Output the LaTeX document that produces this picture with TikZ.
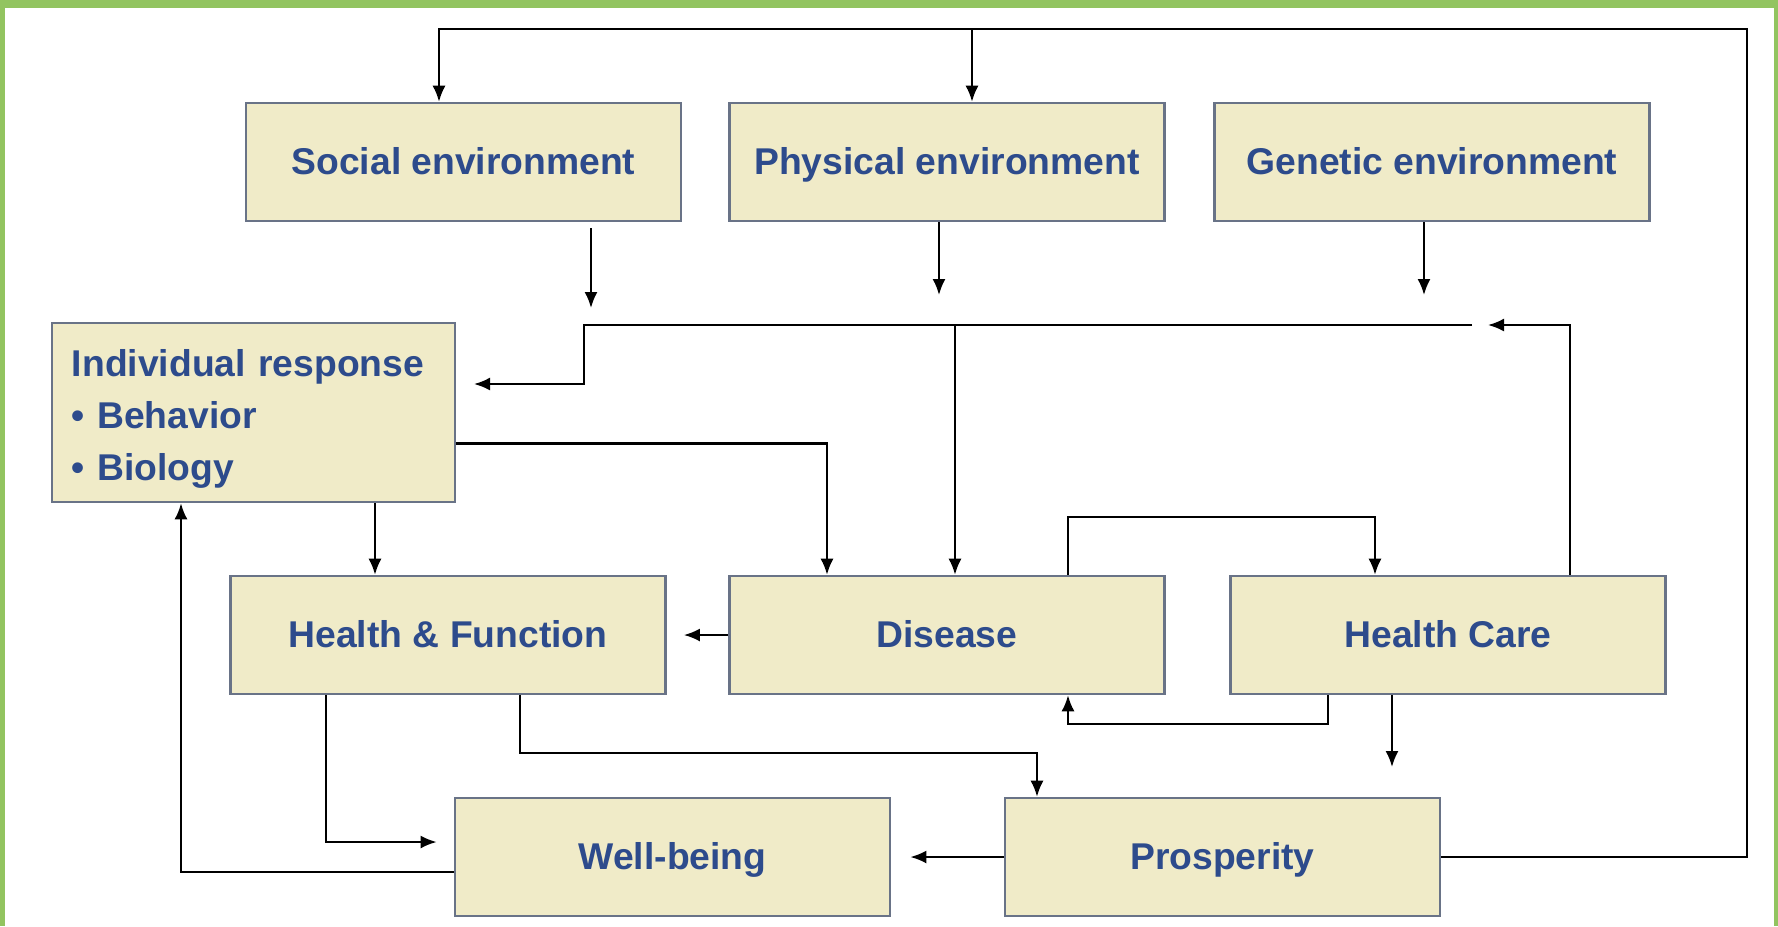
\documentclass[tikz,border=0pt]{standalone}
\usepackage{fontspec}
\setmainfont{Liberation Sans}
\usepackage{tikz}
\usetikzlibrary{arrows.meta}
\definecolor{boxfill}{RGB}{240,235,200}
\definecolor{boxline}{RGB}{105,115,135}
\definecolor{boxtext}{RGB}{45,75,140}
\definecolor{framegreen}{RGB}{146,196,96}

\begin{document}
\begin{tikzpicture}[x=0.01cm,y=-0.01cm,line width=0.6pt,
                    >={Latex[length=0.16cm,width=0.13cm]},
                    main node/.style={rectangle, draw=boxline, fill=boxfill, line width=0.7pt,
                      minimum width=4.35cm, minimum height=1.18cm, inner sep=0pt,
                      text height=0.72em, text depth=0pt,
                      text=boxtext, font=\bfseries\fontsize{10.6}{14.8}\selectfont}]

  \useasboundingbox (0,0) rectangle (1778,926);
  %Frame%
  \fill[framegreen] (0,0) rectangle (1778,8);
  \fill[framegreen] (0,0) rectangle (5,926);
  \fill[framegreen] (1774,0) rectangle (1778,926);

  %Boxes%
  \node[main node] (1) at (463.5,162) {Social environment};
  \node[main node] (2) at (947,162) {Physical environment};
  \node[main node] (3) at (1432,162) {Genetic environment};
  \node[main node, minimum width=4.03cm, minimum height=1.79cm,
        text width=3.63cm, align=left, text depth=27.6pt] (4) at (253.5,412.5)
        {Individual response\\\textbullet{} Behavior\\\textbullet{} Biology};
  \node[main node] (5) at (448,635) {Health \& Function};
  \node[main node] (6) at (947,635) {Disease};
  \node[main node] (7) at (1448,635) {Health Care};
  \node[main node] (8) at (672.5,857) {Well-being};
  \node[main node] (9) at (1222.5,857) {Prosperity};

  %Free ends%
  \coordinate (s1) at (591,308);
  \coordinate (p1) at (939,295);
  \coordinate (g1) at (1424,295);
  \coordinate (h1) at (1472,325);
  \coordinate (h2) at (1488,325);
  \coordinate (r1) at (474,384);
  \coordinate (c2) at (972,29);
  \coordinate (d1) at (955,325);
  \coordinate (q1) at (1392,767);

  %Arrows%
  \draw[->] (9.east) -| (1747,29) -| (439,0 |- 1.north);
  \draw[->] (c2) -- (2.north -| c2);
  \draw[->, shorten <=0.06cm] (1.south -| s1) -- (s1);
  \draw[->] (2.south -| p1) -- (p1);
  \draw[->] (3.south -| g1) -- (g1);
  \draw[->] (h1) -| (584,384) -- (r1);
  \draw[->] (d1) -- (6.north -| d1);
  \draw[->] (7.north -| 1570,0) |- (h2);
  \draw[->] ([yshift=-0.31cm]4.east) -| (6.north -| 827,0);
  \draw[->] (4.south -| 375,0) -- (5.north -| 375,0);
  \draw[->, shorten >=0.17cm] (6.west) -- (5.east);
  \draw[->] (6.north -| 1068,0) |- (1375,517) -- (7.north -| 1375,0);
  \draw[->] (7.south -| 1328,0) |- (1068,724) -- (6.south -| 1068,0);
  \draw[->] (7.south -| q1) -- (q1);
  \draw[->, shorten >=0.17cm] (5.south -| 326,0) |- (8.west |- 0,842);
  \draw[->] (5.south -| 520,0) |- (1037,753) -- (9.north -| 1037,0);
  \draw[->, shorten >=0.19cm] (9.west) -- (8.east);
  \draw[->] (8.west |- 0,872) -| (4.south -| 181,0);
\end{tikzpicture}
\end{document}
